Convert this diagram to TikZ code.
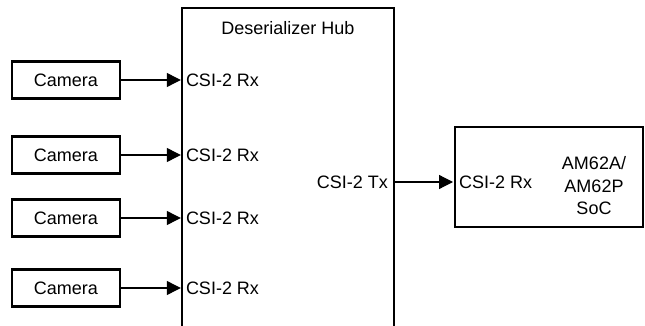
\documentclass[tikz,border=0pt]{standalone}
\usepackage{fontspec}
\setmainfont{Liberation Sans}
\usetikzlibrary{arrows.meta}

\begin{document}
\begin{tikzpicture}[
    x=1pt, y=-1pt,
    every node/.style={font=\fontsize{18}{22.5}\selectfont, inner sep=0pt},
    cambox/.style={draw, line width=2.2pt, minimum width=108pt, minimum height=37pt},
    big box/.style={line width=2pt},
    feed/.style={line width=1.2pt, -{Triangle[length=14pt,width=14pt]}, shorten >=1pt}
    ]
    \useasboundingbox (0,0) rectangle (645,326);
    % Deserializer hub, open at the bottom
    \node[minimum width=212pt, minimum height=318pt] (hub) at (288,167) {};
    \draw[big box] (hub.south west) -- (hub.north west) -- (hub.north east) -- (hub.south east);
    \node (hubname) at (288,28) {Deserializer Hub};
    % Cameras and their inputs
    \foreach \y [count=\i] in {80,155,218,288} {
        \node[cambox] (cam\i) at (66,\y) {Camera};
        \path (hub.west |- cam\i) ++(4,0) node[anchor=west] (rx\i) {CSI-2 Rx};
        \draw[feed] (cam\i.east) -- (hub.west |- cam\i);
    }
    % Output to the SoC
    \node[anchor=east] (tx) at (388,182) {CSI-2 Tx};
    \node[draw, big box, minimum width=188pt, minimum height=100pt] (soc) at (549,177) {};
    \path (soc.west |- tx) ++(5,0) node[anchor=west] (socrx) {CSI-2 Rx};
    \node[align=center] (socname) at (594,186) {AM62A/\\AM62P\\SoC};
    \draw[feed] (hub.east |- tx) -- (soc.west |- tx);
\end{tikzpicture}
\end{document}
